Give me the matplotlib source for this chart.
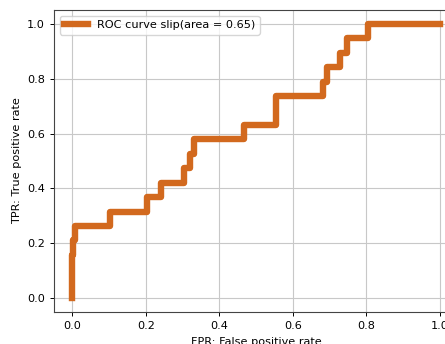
import matplotlib
matplotlib.use("Agg")
import matplotlib.pyplot as plt

# ROC curve vertices
fpr = [0.0, 0.0, 0.003, 0.003, 0.006, 0.006, 0.102, 0.102, 0.203, 0.203,
       0.242, 0.242, 0.305, 0.305, 0.319, 0.319, 0.330, 0.330, 0.468, 0.468,
       0.554, 0.554, 0.682, 0.682, 0.692, 0.692, 0.730, 0.730, 0.748, 0.748,
       0.804, 0.804, 1.0]
tpr = [0.0, 0.158, 0.158, 0.211, 0.211, 0.263, 0.263, 0.316, 0.316, 0.368,
       0.368, 0.421, 0.421, 0.474, 0.474, 0.526, 0.526, 0.579, 0.579, 0.632,
       0.632, 0.737, 0.737, 0.789, 0.789, 0.842, 0.842, 0.895, 0.895, 0.947,
       0.947, 1.0, 1.0]
roc_auc = 0.65
label = 'slip'

fs = 8.1
fig = plt.figure(figsize=(4.45, 3.44), dpi=100)
# axes run past the right edge, like the cropped reference
ax = fig.add_axes([54 / 445, 32 / 344, 404 / 445, 302 / 344])

ax.plot(fpr, tpr, color='#d2691e', lw=4.6,
        label=f'ROC curve {label}(area = {roc_auc:.2f})')
ax.set_xlim(-0.05, 1.05)
ax.set_ylim(-0.05, 1.05)
ax.set_xticks([0, 0.2, 0.4, 0.6, 0.8, 1.0])
ax.set_yticks([0, 0.2, 0.4, 0.6, 0.8, 1.0])
ax.tick_params(labelsize=fs, width=0.7, length=3)
ax.set_xlabel('FPR: False positive rate', fontsize=fs)
ax.set_ylabel('TPR: True positive rate', fontsize=fs)
ax.grid(True, lw=0.8, color='#c8c8c8')
ax.legend(loc='upper left', fontsize=fs, handlelength=2.1)
for s in ax.spines.values():
    s.set_linewidth(0.8)
    s.set_color('#444444')

fig.savefig('out.png', dpi=100)
